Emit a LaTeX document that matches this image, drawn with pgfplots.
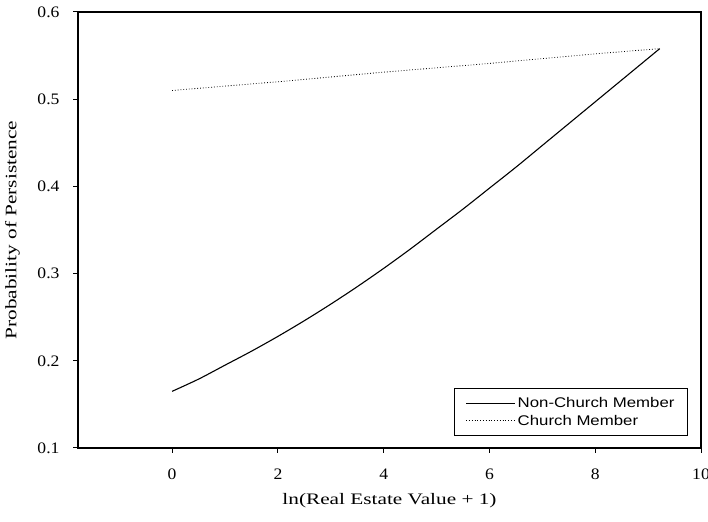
\documentclass[border=0pt]{standalone}
\usepackage{fontspec}
\setmainfont{Liberation Serif}[FakeStretch=1.33]
\newfontfamily\tickfont{Liberation Serif}[FakeStretch=1.1]
\newfontfamily\legendfont{Liberation Sans}[FakeStretch=1.2]
\usepackage{pgfplots}
\pgfplotsset{compat=1.18}

\begin{document}
\begin{tikzpicture}
\useasboundingbox (-78pt,-73pt) rectangle (630pt,448pt);
\begin{axis}[
    at={(0pt,0pt)}, anchor=south west,
    scale only axis,
    width=623pt, height=436pt,
    xmin=-1.78, xmax=10,
    ymin=0.1, ymax=0.6,
    xtick={0,2,4,6,8,10},
    ytick={0.1,0.2,0.3,0.4,0.5,0.6},
    tick pos=left,
    tick align=outside,
    major tick length=5pt,
    axis line style={line width=1.3pt},
    tick style={line width=1pt, black},
    /pgf/number format/assume math mode=true,
    tick label style={font=\tickfont\fontsize{16}{18}\selectfont},
    label style={font=\fontsize{16}{18}\selectfont},
    yticklabel style={/pgf/number format/fixed, /pgf/number format/precision=1,
        /pgf/number format/fixed zerofill, xshift=-10pt},
    xticklabel style={yshift=-12pt},
    xlabel={ln(Real Estate Value + 1)},
    ylabel={Probability of Persistence},
    xlabel style={at={(axis description cs:0.5,-0.12)}, anchor=center},
    ylabel style={at={(axis description cs:-0.105,0.5)}, anchor=center},
    legend cell align={left},
    legend style={at={(1,0)}, anchor=south east, xshift=-13pt, yshift=12pt,
        font=\legendfont\fontsize{14}{16}\selectfont,
        draw=black, line width=0.9pt, inner xsep=11pt, inner ysep=7pt,
        row sep=2pt},
    legend image code/.code={\path (0pt,0pt) -- (49pt,0pt);
        \draw[#1] (0pt,0pt) -- (37pt,0pt);},
]
\addplot[black, line width=1.1pt, smooth] coordinates {
    (0,0.165) (0.5,0.179) (1,0.195) (1.5,0.211) (2,0.228) (2.5,0.246)
    (3,0.265) (3.5,0.285) (4,0.306) (4.5,0.328) (5,0.351) (5.5,0.374)
    (6,0.398) (6.5,0.422) (7,0.447) (7.5,0.472) (8,0.497) (8.5,0.522)
    (9,0.547) (9.22,0.558)
};
\addlegendentry{Non-Church Member}
\addplot[black, line width=0.8pt, dotted] coordinates {
    (0,0.510) (2,0.520) (4,0.531) (6,0.541) (8,0.552) (9.22,0.558)
};
\addlegendentry{Church Member}
\end{axis}
\end{tikzpicture}
\end{document}
